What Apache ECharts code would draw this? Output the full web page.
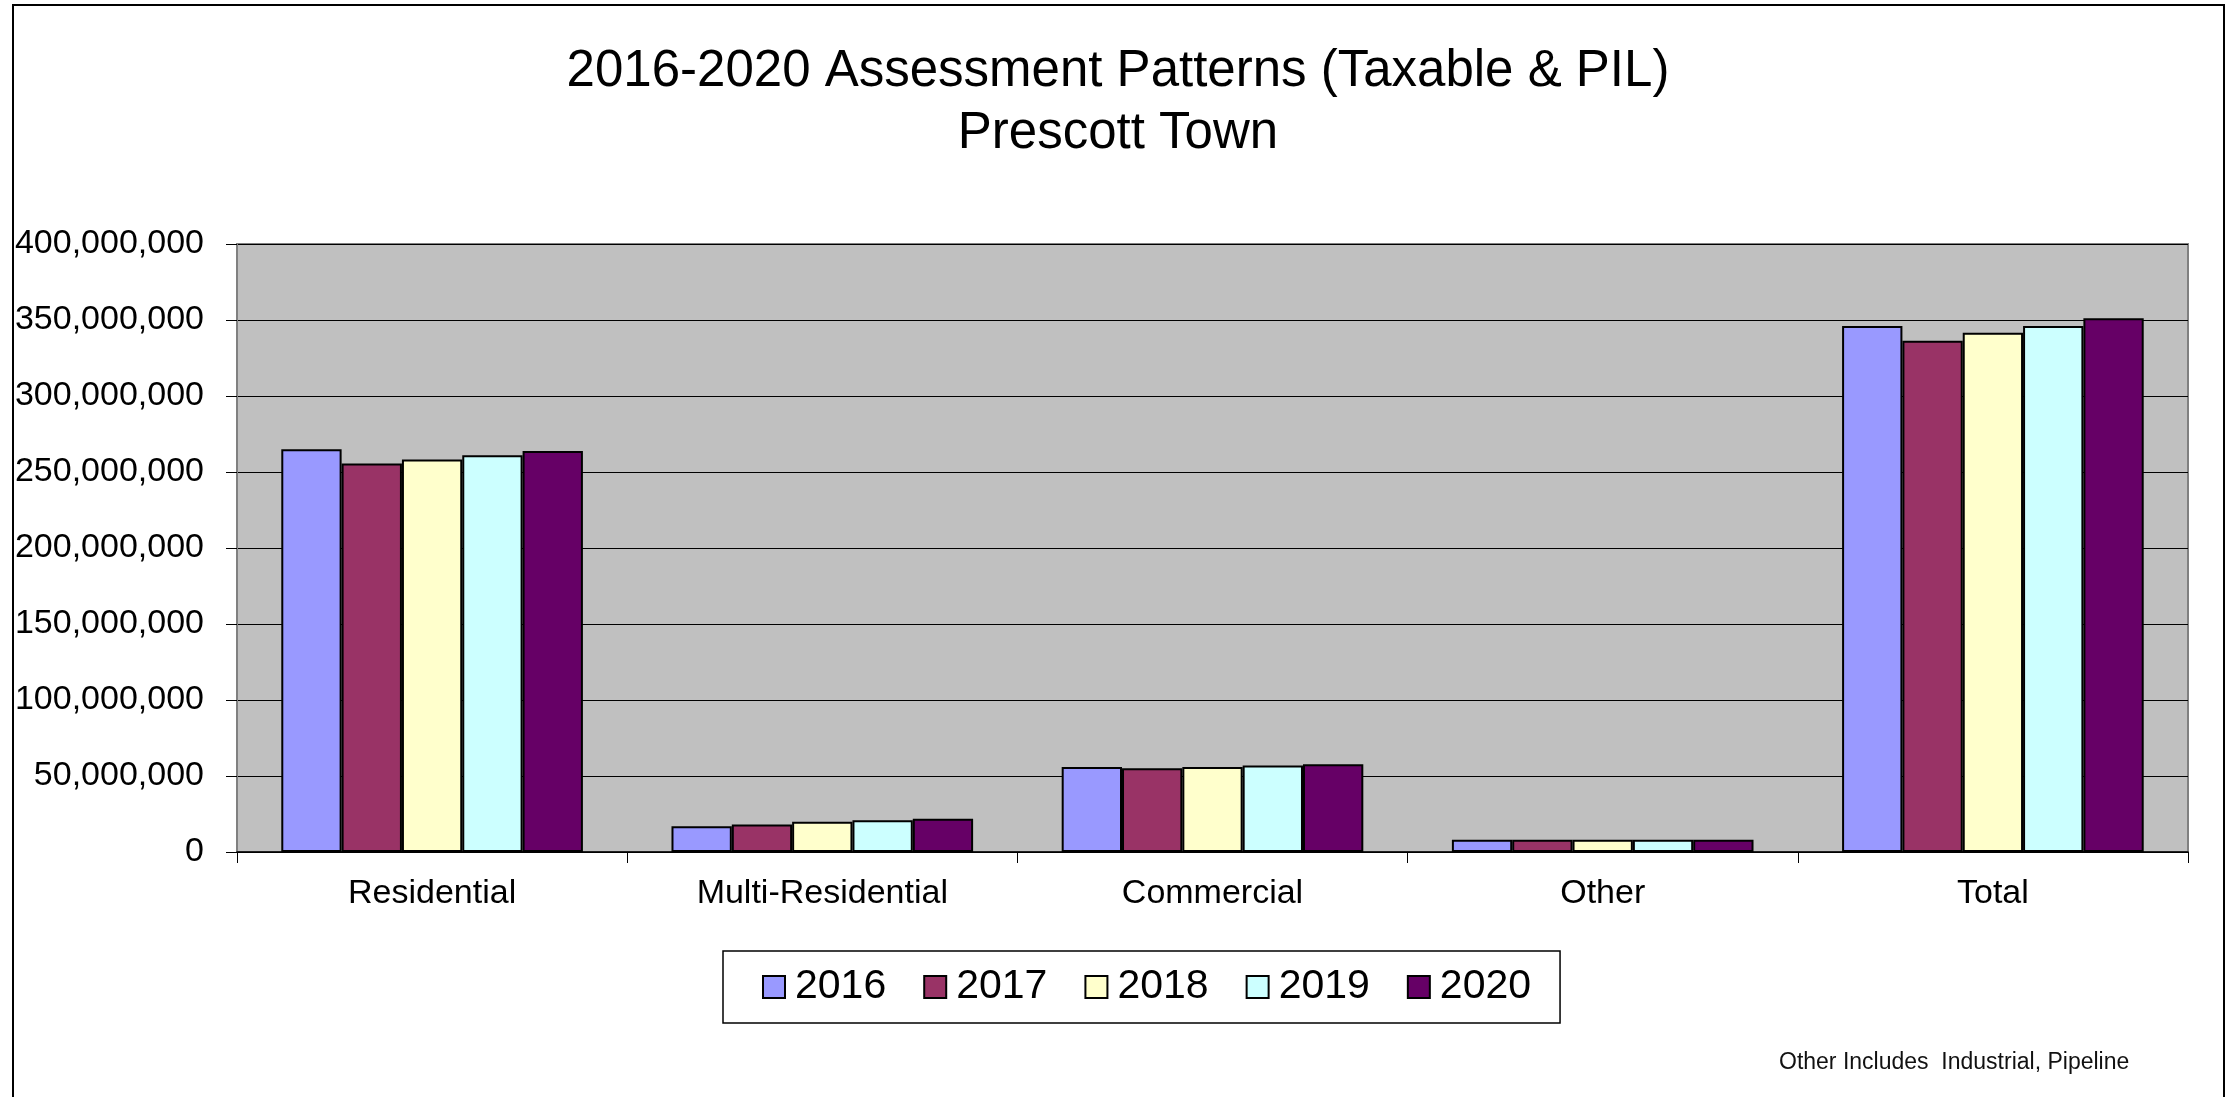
<!DOCTYPE html>
<html>
<head>
<meta charset="utf-8">
<title>2016-2020 Assessment Patterns - Prescott Town</title>
<script src="https://cdn.jsdelivr.net/npm/echarts@6/dist/echarts.min.js"></script>
<style>
  html, body { margin: 0; padding: 0; background: #fff; }
  #echarts { width: 2236px; height: 1097px; }
</style>
</head>
<body>
<div id="echarts"></div>
<script>
// categories on the x axis
var categories = ["Residential", "Multi-Residential", "Commercial", "Other", "Total"];
// one series per year
var years = ["2016", "2017", "2018", "2019", "2020"];
var v2016 = [264900000, 17000000, 56000000, 8000000, 346000000];
var v2017 = [255600000, 18100000, 55100000, 8000000, 336400000];
var v2018 = [258300000, 19900000, 56000000, 8000000, 341600000];
var v2019 = [261000000, 20900000, 56900000, 8000000, 346000000];
var v2020 = [263800000, 21800000, 57800000, 8000000, 351100000];
// y axis range
var yMin = 0;
var yMax = 400000000;
var yStep = 50000000;

var values = [v2016, v2017, v2018, v2019, v2020];
var colors = ["#9999FF", "#993366", "#FFFFCC", "#CCFFFF", "#660066"];
var font = "'Liberation Sans', Arial, sans-serif";

var series = [];
years.forEach(function (y, i) {
  series.push({
    name: y,
    type: "bar",
    data: values[i],
    barGap: "0%",
    barCategoryGap: "22.7%",
    itemStyle: { color: colors[i], borderColor: "#000", borderWidth: 2 }
  });
});

var myChart = echarts.init(document.getElementById("echarts"));
myChart.setOption({
  animation: false,
  backgroundColor: "#fff",
  title: {
    text: "2016-2020 Assessment Patterns (Taxable & PIL)\nPrescott Town",
    left: "center",
    top: 36,
    textStyle: {
      fontFamily: font,
      fontSize: 51,
      fontWeight: "normal",
      lineHeight: 62,
      color: "#000"
    }
  },
  legend: {
    data: years,
    left: 723,
    top: 951,
    orient: "horizontal",
    padding: [12, 29, 12, 39],
    itemWidth: 22,
    itemHeight: 22,
    itemGap: 37,
    borderColor: "#000",
    borderWidth: 1.5,
    backgroundColor: "#fff",
    icon: "rect",
    itemStyle: { borderColor: "#000", borderWidth: 2 },
    textStyle: {
      fontFamily: font,
      fontSize: 41,
      lineHeight: 48,
      color: "#000",
      padding: [0, 0, 0, 5]
    }
  },
  grid: {
    left: 237,
    right: 48,
    top: 244,
    bottom: 245,
    show: true,
    backgroundColor: "#C0C0C0",
    borderColor: "#808080",
    borderWidth: 2
  },
  xAxis: {
    type: "category",
    data: categories,
    axisLine: { lineStyle: { color: "#000", width: 1.5 } },
    axisTick: { show: true, length: 11, lineStyle: { color: "#000" } },
    axisLabel: {
      margin: 25,
      fontFamily: font,
      fontSize: 34,
      color: "#000"
    }
  },
  yAxis: {
    type: "value",
    min: yMin,
    max: yMax,
    interval: yStep,
    axisLine: { show: true, lineStyle: { color: "#808080", width: 2 } },
    axisTick: { show: true, length: 11, lineStyle: { color: "#000" } },
    splitLine: { lineStyle: { color: "#000", width: 1.2 } },
    axisLabel: {
      margin: 33,
      fontFamily: font,
      fontSize: 34,
      color: "#000",
      formatter: function (v) { return v.toLocaleString("en-US"); }
    }
  },
  graphic: [
    {
      type: "rect",
      shape: { x: 13, y: 5, width: 2211, height: 1200 },
      style: { fill: "none", stroke: "#000", lineWidth: 2 },
      silent: true,
      z: -1
    },
    {
      type: "text",
      left: 1779,
      top: 1051,
      style: {
        text: "Other Includes  Industrial, Pipeline",
        font: "23px " + font,
        fill: "#111"
      }
    }
  ],
  series: series
});
</script>
</body>
</html>
